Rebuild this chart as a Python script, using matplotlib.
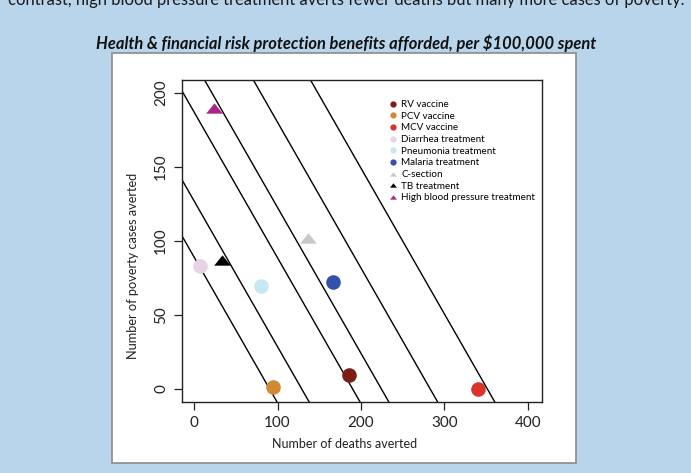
import matplotlib
matplotlib.use("Agg")
import matplotlib.pyplot as plt
from matplotlib.patches import Rectangle
from matplotlib.path import Path
from matplotlib import font_manager
import numpy as np

# ---- data ----
interventions = ["RV vaccine", "PCV vaccine", "MCV vaccine", "Diarrhea treatment",
                 "Pneumonia treatment", "Malaria treatment", "C-section",
                 "TB treatment", "High blood pressure treatment"]
deaths_averted = [185.5, 94.3, 340.5, 7.2, 80.2, 167.0, 136.2, 33.9, 24.3]
poverty_averted = [9.5, 1.5, 0.0, 83.0, 69.6, 72.1, 101.8, 87.2, 189.6]
colors = ["#7b1c17", "#d08a33", "#d8342a", "#e6d3e6", "#c5e8f2", "#3550a8",
          "#c8c8c8", "#000000", "#a8288a"]
shapes = ["o", "o", "o", "o", "o", "o", "^", "^", "^"]

# iso-benefit lines: x-intercepts (deaths averted at zero poverty cases)
iso_intercepts = [90.5, 129, 190, 224.5, 283, 351.5]
iso_slope = -0.985

x_ticks = [0, 100, 200, 300, 400]
y_ticks = [0, 50, 100, 150, 200]

title_text = "Health & financial risk protection benefits afforded, per $100,000 spent"
top_text = "contrast, high blood pressure treatment averts fewer deaths but many more cases of poverty."
x_label = "Number of deaths averted"
y_label = "Number of poverty cases averted"

# ---- figure ----
W, H = 691, 473
fig = plt.figure(figsize=(W / 100, H / 100), dpi=100)
fig.patch.set_facecolor("#b9d5ec")

names = {f.name for f in font_manager.fontManager.ttflist}
font = "Lato"
narrow = "Liberation Sans Narrow" if "Liberation Sans Narrow" in names else "Lato"

flat_tri = Path([(-1, -0.62), (1, -0.62), (0, 0.62), (-1, -0.62)],
                [Path.MOVETO, Path.LINETO, Path.LINETO, Path.CLOSEPOLY])

def mk(m):
    return flat_tri if m == "^" else "o"

# white panel
panel = Rectangle((112 / W, 1 - 463 / H), 464 / W, 410 / H, transform=fig.transFigure,
                  facecolor="white", edgecolor="#8a8a8a", linewidth=1.2, zorder=-5)
fig.patches.append(panel)

fig.text(346 / W, 1 - 5 / H, top_text, ha="center", va="baseline", fontsize=11.9,
         family=font, color="#1a1a1a")
fig.text(346 / W, 1 - 43 / H, title_text, ha="center", va="center", fontsize=11.9,
         family=narrow, fontweight="bold", fontstyle="italic", color="#111111")

ax = fig.add_axes([182 / W, 1 - 402 / H, 360 / W, 322 / H])
ax.set_zorder(2)
ax.patch.set_alpha(0)
ax.set_xlim(-14.5, 417)
ax.set_ylim(-8.8, 208.8)

xs = np.array([-20, 430])
for c in iso_intercepts:
    ax.plot(xs, iso_slope * (xs - c), color="black", lw=1.0, zorder=1)

for name, dx, py, col, m in zip(interventions, deaths_averted, poverty_averted, colors, shapes):
    ms = 10.5 if m == "o" else 12
    ax.plot(dx, py, marker=mk(m), color=col, markersize=ms, linestyle="none", zorder=3,
            markeredgewidth=0)

# legend
handles = []
for name, col, m in zip(interventions, colors, shapes):
    h, = ax.plot([], [], marker=mk(m), color=col, markersize=4.5 if m == "o" else 5,
                 linestyle="none", markeredgewidth=0, label=name)
    handles.append(h)
leg = ax.legend(handles=handles, loc="upper left",
                bbox_to_anchor=((390 - 182) / 360, (402 - 100) / 322),
                frameon=False, prop={"family": font, "size": 7.1},
                handlelength=0.6, handletextpad=0.55, labelspacing=0.27, borderaxespad=0,
                borderpad=0)

ax.set_xticks(x_ticks)
ax.set_yticks(y_ticks)
ax.set_xticklabels([str(v) for v in x_ticks], fontfamily=font, fontsize=11)
ax.set_yticklabels([str(v) for v in y_ticks], fontfamily=font, fontsize=11,
                   rotation=90, va="center")
ax.tick_params(direction="out", length=6, width=0.9, colors="#222222", pad=4)
for s in ax.spines.values():
    s.set_linewidth(1.0)
    s.set_color("#222222")

fig.text(345 / W, 1 - 444 / H, x_label, ha="center", va="center", fontsize=9.0,
         family=font, color="#222222")
fig.text(133 / W, 1 - 266 / H, y_label, ha="center", va="center", fontsize=9.2,
         family=font, color="#222222", rotation=90)

fig.savefig("out.png", dpi=100, facecolor=fig.get_facecolor())
